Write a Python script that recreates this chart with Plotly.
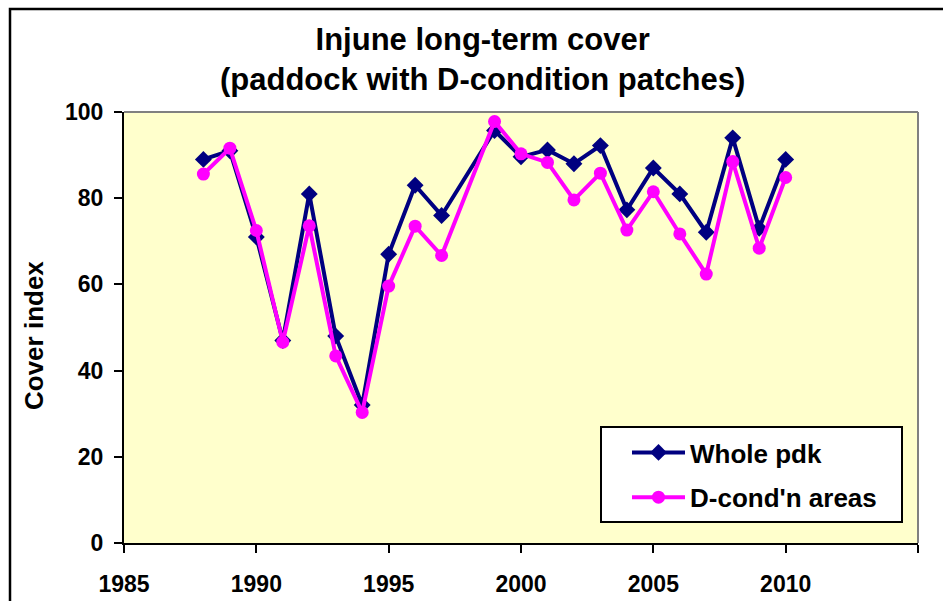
import plotly.graph_objects as go

# Cover index by year (no survey in 1998)
years = [1988, 1989, 1990, 1991, 1992, 1993, 1994, 1995, 1996, 1997,
         1999, 2000, 2001, 2002, 2003, 2004, 2005, 2006, 2007, 2008, 2009, 2010]
whole_pdk = [89, 91, 71, 47, 81, 48, 32, 67, 83, 76,
             95.7, 89.6, 91.2, 88, 92.2, 77.3, 87, 81, 72.1, 94, 73, 89]
d_cond_areas = [85.6, 91.6, 72.5, 46.6, 73.6, 43.4, 30.3, 59.6, 73.5, 66.7,
                97.8, 90.3, 88.3, 79.6, 85.8, 72.6, 81.5, 71.7, 62.4, 88.5, 68.4, 84.8]

x_ticks = [1985, 1990, 1995, 2000, 2005, 2010, 2015]
y_ticks = [0, 20, 40, 60, 80, 100]

FONT = "Liberation Sans, Arial, sans-serif"
NAVY = "#000080"
MAGENTA = "#FF00FF"

W, H = 943, 601
L, R, T, B = 124, 25, 112, 58
pw, ph = W - L - R, H - T - B


def px_x(p):
    return (p - L) / pw


def px_y(p):
    return (H - B - p) / ph


tickfont = dict(size=23, family=FONT, color="black", weight="bold")

fig = go.Figure()
fig.add_trace(go.Scatter(
    x=years, y=whole_pdk, name="Whole pdk", mode="lines+markers",
    line=dict(color=NAVY, width=4),
    marker=dict(symbol="diamond", size=13, color=NAVY),
    legendgroup="a",
))
fig.add_trace(go.Scatter(
    x=years, y=d_cond_areas, name="D-cond'n areas", mode="lines+markers",
    line=dict(color=MAGENTA, width=4),
    marker=dict(symbol="circle", size=13, color=MAGENTA),
    legendgroup="b",
))

fig.update_layout(
    width=W, height=H,
    margin=dict(l=L, r=R, t=T, b=B, pad=0, autoexpand=False),
    paper_bgcolor="white",
    plot_bgcolor="#FFFFCC",
    font=dict(family=FONT, color="black"),
    showlegend=True,
    legend=dict(
        x=px_x(627), y=px_y(429), xanchor="left", yanchor="top",
        bgcolor="rgba(0,0,0,0)", borderwidth=0,
        font=dict(size=26, family=FONT, color="black", weight="bold"),
        itemwidth=53, tracegroupgap=8, traceorder="grouped",
    ),
    xaxis=dict(
        range=[1985, 2015], tickvals=x_ticks, ticktext=[str(v) for v in x_ticks],
        showgrid=False, zeroline=False, showline=True, linecolor="black", linewidth=2,
        ticks="outside", ticklen=8, tickwidth=2, tickcolor="black",
        tickfont=tickfont, ticklabelstandoff=11, automargin=False,
    ),
    yaxis=dict(
        range=[0, 100], tickvals=y_ticks, ticktext=[str(v) for v in y_ticks],
        showgrid=False, zeroline=False, showline=True, linecolor="black", linewidth=2,
        ticks="outside", ticklen=8, tickwidth=2, tickcolor="black",
        tickfont=tickfont, ticklabelstandoff=6, automargin=False,
    ),
    annotations=[
        dict(text="Injune long-term cover<br>(paddock with D-condition patches)",
             x=px_x(482), y=px_y(60), xref="paper", yref="paper",
             xanchor="center", yanchor="middle", showarrow=False,
             font=dict(size=31, family=FONT, color="black", weight="bold")),
        dict(text="Cover index", textangle=-90,
             x=px_x(34), y=px_y(336), xref="paper", yref="paper",
             xanchor="center", yanchor="middle", showarrow=False,
             font=dict(size=26, family=FONT, color="black", weight="bold")),
    ],
    shapes=[
        # grey frame on the top and right of the plot area
        dict(type="line", xref="paper", yref="paper", x0=0, x1=1, y0=1, y1=1,
             line=dict(color="#808080", width=2)),
        dict(type="line", xref="paper", yref="paper", x0=1, x1=1, y0=0, y1=1,
             line=dict(color="#808080", width=2)),
        # outer chart border
        dict(type="rect", xref="paper", yref="paper",
             x0=px_x(10), x1=px_x(W + 20), y0=px_y(H + 20), y1=px_y(9),
             line=dict(color="black", width=2.5), layer="below"),
        # legend box
        dict(type="rect", xref="paper", yref="paper",
             x0=px_x(601), x1=px_x(902), y0=px_y(522), y1=px_y(427),
             fillcolor="white", line=dict(color="black", width=2), layer="above"),
    ],
)

fig.write_html("out.html")
